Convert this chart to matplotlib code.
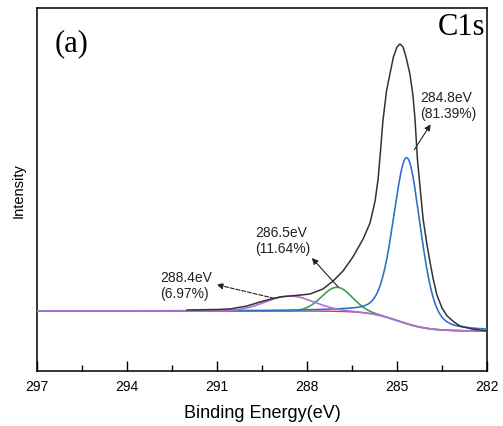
import numpy as np
import matplotlib
matplotlib.use("Agg")
import matplotlib.pyplot as plt
from matplotlib.ticker import MultipleLocator

# measured C1s spectrum (binding energy, intensity)
data_be = [292.0, 291.0, 290.57, 290.0, 289.57, 289.2, 288.9, 288.57, 288.2,
           287.9, 287.47, 287.13, 286.8, 286.47, 286.13, 285.9, 285.73,
           285.63, 285.55, 285.47, 285.35, 285.23, 285.12, 285.0, 284.9,
           284.8, 284.7, 284.57, 284.47, 284.4, 284.32, 284.22, 284.13,
           284.0, 283.9, 283.8, 283.67, 283.5, 283.33, 283.1, 282.9,
           282.5, 282.0]
data_int = [61, 61.5, 62, 65, 69, 72, 74, 75, 76,
            77, 82, 90, 100, 114, 132, 148, 170,
            192, 220, 250, 280, 298, 314, 324, 327,
            324, 314, 297, 276, 252, 212, 180, 152,
            126, 109, 93, 76, 63, 55, 49, 45,
            42, 40]

# fitted components: centre (eV), height, FWHM (eV), lorentz fraction
peak_names = ["284.8eV\n(81.39%)", "286.5eV\n(11.64%)", "288.4eV\n(6.97%)"]
peak_center = [284.67, 287.0, 288.57]
peak_height = [166, 24, 15]
peak_fwhm = [1.07, 1.2, 1.9]
peak_lor = [0.3, 0.0, 0.0]
peak_color = ["#3a80dc", "#3aa055", "#b070d8"]

# background (shirley like step)
bg_left, bg_right = 60, 40
bg_step, bg_width = 284.95, 0.5

xticks = [297, 294, 291, 288, 285, 282]

plt.rcParams["font.family"] = ["Liberation Sans", "DejaVu Sans"]

be = np.linspace(282, 297, 1500)
bg = bg_right + (bg_left - bg_right) / (1 + np.exp(-(be - bg_step) / bg_width))


def gl(x, c, h, w, m):
    g = np.exp(-4 * np.log(2) * ((x - c) / w) ** 2)
    lor = 1 / (1 + 4 * ((x - c) / w) ** 2)
    return h * ((1 - m) * g + m * lor)


fig = plt.figure(figsize=(5.03, 4.27), dpi=100)
ax = fig.add_axes([0.0736, 0.1288, 0.8946, 0.8502])

ax.plot(be, bg, color="#e03050", lw=1.0, zorder=2)
order = [1, 0, 2]
for i in order:
    y = bg + gl(be, peak_center[i], peak_height[i], peak_fwhm[i], peak_lor[i])
    ax.plot(be, y, color=peak_color[i], lw=1.2, zorder=3)
    if i == 0:
        ax.plot(be, y, color="#24467f", lw=0.5, ls=(0, (1.5, 2)), zorder=3)

ax.plot(data_be, data_int, color="#333333", lw=1.1, zorder=4)

# labels + arrows
arr = dict(arrowstyle="-|>", color="#222222", lw=0.8, mutation_scale=9)
ax.annotate("", xy=(283.83, 249), xytext=(284.47, 219), arrowprops=arr)
ax.annotate("", xy=(287.9, 115), xytext=(286.9, 82), arrowprops=arr)
ax.annotate("", xy=(291.1, 87), xytext=(289.0, 72),
            arrowprops=dict(arr, linestyle="--"))
ax.text(284.23, 266, peak_names[0], fontsize=10, ha="left", va="center",
        color="#222222", linespacing=1.15)
ax.text(289.73, 131, peak_names[1], fontsize=10, ha="left", va="center",
        color="#222222", linespacing=1.15)
ax.text(292.9, 86, peak_names[2], fontsize=10, ha="left", va="center",
        color="#222222", linespacing=1.15)

ax.text(0.04, 0.905, "(a)", transform=ax.transAxes, fontsize=22,
        family="Liberation Serif", ha="left", va="center")
ax.text(0.995, 0.99, "C1s", transform=ax.transAxes, fontsize=22,
        family="Liberation Serif", ha="right", va="top")

ax.set_xlim(297, 282)
ax.set_ylim(0, 363)
ax.set_xticks(xticks)
ax.xaxis.set_minor_locator(MultipleLocator(1.5))
ax.set_yticks([])
ax.tick_params(axis="x", which="major", direction="in", length=7, width=1,
               labelsize=10, pad=6)
ax.tick_params(axis="x", which="minor", direction="in", length=4, width=1)
for s in ax.spines.values():
    s.set_linewidth(1.1)

ax.set_xlabel("Binding Energy(eV)", fontsize=13, labelpad=8)
ax.set_ylabel("Intensity", fontsize=10.5, labelpad=8)

fig.savefig("out.png", dpi=100)
